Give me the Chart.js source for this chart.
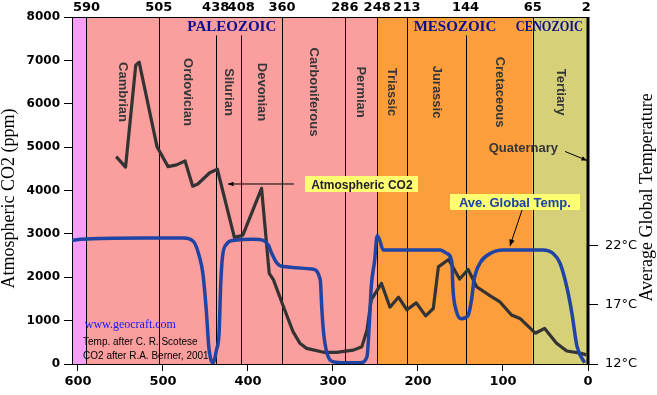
<!DOCTYPE html>
<html>
<head>
<meta charset="utf-8">
<title>CO2 and temperature over geologic time</title>
<script src="https://cdn.jsdelivr.net/npm/chart.js@4.4.1/dist/chart.umd.min.js"></script>
<style>
  html, body { margin: 0; padding: 0; background: #fff; }
  canvas { display: block; }
</style>
</head>
<body>
<canvas id="geoChart" width="657" height="395"></canvas>
<script>
'use strict';

// Atmospheric CO2 (Berner 2001) — age in Ma, ppm
const co2Age = [555, 544, 532, 528, 507, 494, 484, 474, 465, 459,
                445, 436, 416, 406, 384, 375, 370, 359, 347, 339,
                331, 311, 296, 276, 266, 260, 255, 243, 233, 223,
                213, 202, 191, 182, 176, 164, 151, 141, 131, 115,
                104, 90, 80, 62, 51, 37, 25, 9, 2];
const co2Ppm = [4780, 4540, 6890, 6960, 5010, 4550, 4590, 4680, 4100, 4150,
                4410, 4490, 2920, 2970, 4050, 2090, 1940, 1360, 745, 480,
                360, 270, 270, 320, 400, 780, 1480, 1860, 1310, 1540,
                1250, 1410, 1110, 1280, 2240, 2410, 1960, 2180, 1780, 1570,
                1440, 1130, 1050, 710, 820, 480, 300, 250, 210];

// Average global temperature (Scotese) — age in Ma, °C
const tempAge = [607, 596, 523, 507, 476, 464, 457, 453, 449, 446,
                 441, 437, 434, 432, 430, 425, 417, 394, 382, 376,
                 372, 366, 359, 325, 315, 313, 311, 307, 300, 286,
                 268, 260, 257, 255, 251, 248, 245, 241, 233, 174,
                 166, 160, 159, 155, 149, 141, 137, 134, 127, 115,
                 100, 76, 53, 41, 33, 25, 19, 13, 4];
const tempC = [22.4, 22.5, 22.6, 22.6, 22.6, 22.3, 21.0, 19.6, 16.5, 13.4,
               12.1, 13.2, 14.6, 18.8, 21.0, 22.1, 22.4, 22.5, 22.4, 22.0,
               21.3, 20.5, 20.2, 20.0, 19.1, 16.5, 14.6, 12.9, 12.2, 12.1,
               12.1, 12.6, 15.7, 18.5, 20.7, 22.8, 22.4, 21.6, 21.6, 21.6,
               21.3, 20.5, 18.5, 16.5, 15.8, 16.1, 17.4, 19.1, 20.5, 21.3,
               21.6, 21.6, 21.6, 21.3, 20.5, 18.5, 16.3, 13.5, 12.1];

// axes
const xTicks    = [600, 500, 400, 300, 200, 100, 0];
const topTicks  = [590, 505, 438, 408, 360, 286, 248, 213, 144, 65, 2];
const tempTicks = [12, 17, 22];

// geologic time scale
const periodNames = ['Cambrian', 'Ordovician', 'Silurian', 'Devonian', 'Carboniferous',
                     'Permian', 'Triassic', 'Jurassic', 'Cretaceous', 'Tertiary'];
const periodEdges = [590, 505, 438, 408, 360, 286, 248, 213, 144, 65, 0];
const eraNames = ['PALEOZOIC', 'MESOZOIC', 'CENOZOIC'];
const eraEdges = [590, 248, 65, 0];

const bandColors = ['#f3a0f6', '#fa9e9e', '#fc9e3c', '#d6d178'];

function arrow(ctx, x1, y1, x2, y2, head) {
  ctx.beginPath();
  ctx.moveTo(x1, y1);
  ctx.lineTo(x2, y2);
  ctx.stroke();
  const ang = Math.atan2(y2 - y1, x2 - x1);
  ctx.beginPath();
  ctx.moveTo(x2, y2);
  ctx.lineTo(x2 - head * Math.cos(ang - 0.4), y2 - head * Math.sin(ang - 0.4));
  ctx.lineTo(x2 - head * Math.cos(ang + 0.4), y2 - head * Math.sin(ang + 0.4));
  ctx.closePath();
  ctx.fill();
}

const geoPlugin = {
  id: 'geoTime',

  beforeDraw(chart) {
    const { ctx, chartArea: a, scales: { x } } = chart;
    ctx.save();
    ctx.fillStyle = '#fff';
    ctx.fillRect(0, 0, chart.width, chart.height);

    // pre-Cambrian strip
    ctx.fillStyle = bandColors[0];
    ctx.fillRect(a.left, a.top, x.getPixelForValue(eraEdges[0]) - a.left, a.bottom - a.top);

    eraNames.forEach((n, i) => {
      const x0 = x.getPixelForValue(eraEdges[i]);
      const x1 = x.getPixelForValue(eraEdges[i + 1]);
      ctx.fillStyle = bandColors[i + 1];
      ctx.fillRect(x0, a.top, x1 - x0, a.bottom - a.top);
    });
    ctx.restore();
  },

  beforeDatasetsDraw(chart) {
    const { ctx, chartArea: a, scales: { x, y } } = chart;
    ctx.save();

    // era names
    const eraY = y.getPixelForValue(7759);
    ctx.font = 'bold 15px "Liberation Serif"';
    ctx.fillStyle = '#0c0c8c';
    ctx.textBaseline = 'middle';
    const eraBoxes = eraNames.map((name, i) => {
      const x0 = x.getPixelForValue(eraEdges[i]);
      const x1 = x.getPixelForValue(eraEdges[i + 1]);
      const w = ctx.measureText(name).width;
      if (i === eraNames.length - 1) {
        const maxW = Math.min(w, (a.right - 5) - (x0 - 17));
        ctx.textAlign = 'right';
        ctx.fillText(name, a.right - 5, eraY, maxW);
        return { left: a.right - 5 - maxW, right: a.right - 5 };
      }
      const cx = (x0 + x1) / 2;
      ctx.textAlign = 'center';
      ctx.fillText(name, cx, eraY);
      return { left: cx - w / 2, right: cx + w / 2 };
    });

    // period boundaries
    ctx.strokeStyle = '#000';
    ctx.lineWidth = 1;
    periodEdges.slice(0, -1).forEach(b => {
      const bx = Math.round(x.getPixelForValue(b)) + 0.5;
      let top = a.top;
      if (!eraEdges.includes(b)) {
        eraBoxes.forEach(e => {
          if (bx > e.left - 2 && bx < e.right + 2) top = eraY + 8;
        });
      }
      ctx.beginPath();
      ctx.moveTo(bx, top);
      ctx.lineTo(bx, a.bottom);
      ctx.stroke();
    });

    // period names, rotated
    ctx.font = 'bold 13px "Liberation Sans"';
    ctx.fillStyle = '#363636';
    ctx.textAlign = 'center';
    ctx.textBaseline = 'middle';
    const labelY = y.getPixelForValue(6270);
    periodNames.forEach((name, i) => {
      const cx = (x.getPixelForValue(periodEdges[i]) + x.getPixelForValue(periodEdges[i + 1])) / 2;
      ctx.save();
      ctx.translate(cx, labelY);
      ctx.rotate(Math.PI / 2);
      ctx.fillText(name, 0, 0);
      ctx.restore();
    });

    ctx.restore();
  },

  afterDatasetsDraw(chart) {
    const { ctx, chartArea: a, scales: { x, y } } = chart;
    const P = (age, v) => [x.getPixelForValue(age), y.getPixelForValue(v)];
    ctx.save();

    // heavy right frame
    ctx.fillStyle = '#000';
    ctx.fillRect(a.right - 1.5, a.top, 3, a.bottom - a.top);

    // Quaternary note
    ctx.font = 'bold 13px "Liberation Sans"';
    ctx.fillStyle = '#363636';
    ctx.textAlign = 'center';
    ctx.textBaseline = 'middle';
    const [qx, qy] = P(76, 4980);
    ctx.fillText('Quaternary', qx, qy);
    ctx.strokeStyle = '#000';
    ctx.fillStyle = '#000';
    ctx.lineWidth = 1;
    arrow(ctx, ...P(27, 4900), ...P(1.2, 4692), 6);

    // boxed labels
    const boxLabel = (text, age, v, color, size, pad) => {
      const [cx, cy] = P(age, v);
      ctx.font = 'bold ' + size + 'px "Liberation Sans"';
      const w = ctx.measureText(text).width + pad * 2;
      ctx.fillStyle = '#ffff72';
      ctx.fillRect(Math.round(cx - w / 2), Math.round(cy - 8), Math.round(w), 16);
      ctx.fillStyle = color;
      ctx.textAlign = 'center';
      ctx.textBaseline = 'middle';
      ctx.fillText(text, cx, cy + 1);
    };
    boxLabel('Atmospheric CO2', 266, 4140, '#222', 12, 6);
    boxLabel('Ave. Global Temp.', 86, 3735, '#1a3fa8', 13, 9);

    ctx.strokeStyle = '#000';
    ctx.fillStyle = '#000';
    arrow(ctx, ...P(346, 4150), ...P(423.5, 4150), 6);
    arrow(ctx, ...P(77.6, 3551), ...P(91.8, 2721), 7);

    // credits
    ctx.textAlign = 'left';
    ctx.font = '12px "Liberation Serif"';
    ctx.fillStyle = '#1515ff';
    ctx.fillText('www.geocraft.com', P(592, 0)[0], y.getPixelForValue(900));
    ctx.font = '10px "Liberation Sans"';
    ctx.fillStyle = '#000';
    ctx.fillText('Temp. after C. R. Scotese', P(594, 0)[0], y.getPixelForValue(507));
    ctx.fillText('CO2 after R.A. Berner, 2001', P(594, 0)[0], y.getPixelForValue(184));

    // axis titles (both read bottom to top)
    const midY = a.top + (a.bottom - a.top) * 0.52;
    ctx.font = '18px "Liberation Serif"';
    ctx.textAlign = 'center';
    ctx.textBaseline = 'alphabetic';
    ctx.save();
    ctx.translate(14, midY + 1);
    ctx.rotate(-Math.PI / 2);
    ctx.fillText('Atmospheric CO2 (ppm)', 0, 0);
    ctx.restore();
    ctx.save();
    ctx.translate(652, midY);
    ctx.rotate(-Math.PI / 2);
    ctx.fillText('Average Global Temperature', 0, 0);
    ctx.restore();

    ctx.restore();
  }
};

Chart.defaults.font.family = '"DejaVu Sans", sans-serif';
Chart.defaults.color = '#000';

const tickFont = { size: 13, weight: 'bold' };
const plain = v => String(v);

new Chart(document.getElementById('geoChart'), {
  type: 'line',
  data: {
    datasets: [
      {
        label: 'Ave. Global Temp.',
        data: tempAge.map((a, i) => ({ x: a, y: tempC[i] })),
        xAxisID: 'x',
        yAxisID: 'yT',
        borderColor: '#1f44a4',
        borderWidth: 3.5,
        pointRadius: 0,
        cubicInterpolationMode: 'monotone'
      },
      {
        label: 'Atmospheric CO2',
        data: co2Age.map((a, i) => ({ x: a, y: co2Ppm[i] })),
        xAxisID: 'x',
        yAxisID: 'y',
        borderColor: '#333',
        borderWidth: 3.2,
        pointRadius: 0,
        tension: 0,
        borderJoinStyle: 'round'
      }
    ]
  },
  options: {
    responsive: false,
    devicePixelRatio: 1,
    animation: false,
    layout: { padding: 0 },
    plugins: {
      legend: { display: false },
      tooltip: { enabled: false }
    },
    scales: {
      x: {
        type: 'linear',
        position: 'bottom',
        reverse: true,
        min: 0,
        max: 607,
        afterBuildTicks: s => { s.ticks = xTicks.map(v => ({ value: v })); },
        afterFit: s => { s.height = 31; },
        ticks: { font: tickFont, padding: 3, maxRotation: 0, autoSkip: false, callback: plain },
        grid: { drawOnChartArea: false, tickLength: 7, color: '#000' },
        border: { color: '#000', width: 1 }
      },
      xTop: {
        type: 'linear',
        axis: 'x',
        position: 'top',
        reverse: true,
        min: 0,
        max: 607,
        afterBuildTicks: s => { s.ticks = topTicks.map(v => ({ value: v })); },
        afterFit: s => { s.height = 17; },
        ticks: { font: tickFont, padding: 2, maxRotation: 0, autoSkip: false, callback: plain },
        grid: { drawOnChartArea: false, drawTicks: false },
        border: { color: '#000', width: 1 }
      },
      y: {
        type: 'linear',
        position: 'left',
        min: 0,
        max: 8000,
        afterFit: s => { s.width = 72; },
        ticks: { stepSize: 1000, font: { size: 12, weight: 'bold' }, padding: 4, callback: plain },
        grid: { drawOnChartArea: false, tickLength: 8, color: '#000' },
        border: { color: '#000', width: 1 }
      },
      yT: {
        type: 'linear',
        position: 'right',
        min: 12,
        max: 41.2,
        afterBuildTicks: s => { s.ticks = tempTicks.map(v => ({ value: v })); },
        afterFit: s => { s.width = 69; },
        ticks: { callback: v => v + '°C', font: { size: 13 }, padding: 7 },
        grid: { drawOnChartArea: false, tickLength: 10, color: '#000' },
        border: { display: false }
      }
    }
  },
  plugins: [geoPlugin]
});
</script>
</body>
</html>
